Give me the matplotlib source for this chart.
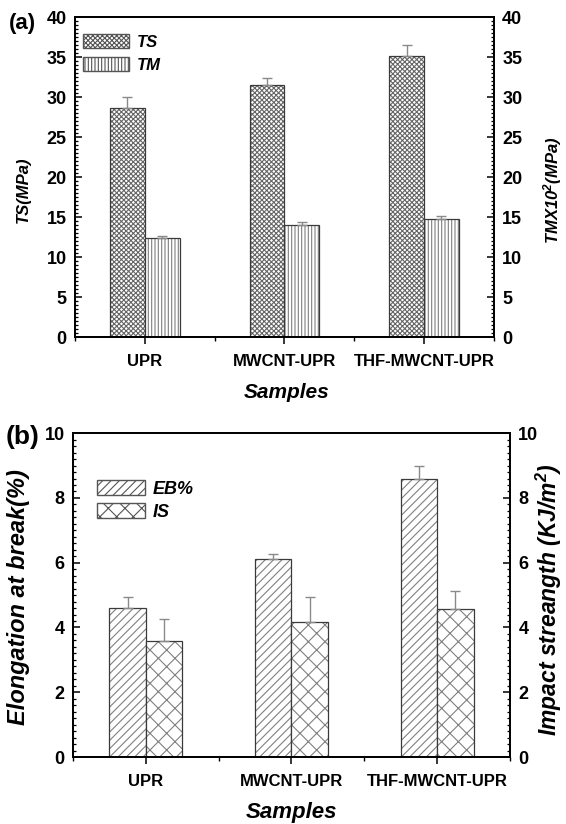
import numpy as np
import matplotlib
matplotlib.use("Agg")
from matplotlib import pyplot as plt
from matplotlib.patches import Patch
from matplotlib.ticker import MultipleLocator

# valores medidos (media e desvio) para as tres amostras
samples = ["UPR", "MWCNT-UPR", "THF-MWCNT-UPR"]
ts = [28.7, 31.5, 35.1]
tsErr = [1.3, 0.95, 1.4]
tm = [12.45, 14.0, 14.8]
tmErr = [0.15, 0.37, 0.35]
eb = [4.6, 6.1, 8.6]
ebErr = [0.35, 0.17, 0.4]
impact = [3.57, 4.18, 4.56]
impactErr = [0.68, 0.76, 0.56]

plt.rcParams["font.family"] = ["Liberation Sans", "DejaVu Sans"]
plt.rcParams["font.weight"] = "bold"
plt.rcParams["mathtext.fontset"] = "custom"
plt.rcParams["mathtext.rm"] = "Liberation Sans:bold:italic"
plt.rcParams["mathtext.it"] = "Liberation Sans:bold:italic"
plt.rcParams["hatch.linewidth"] = 0.8
plt.rcParams["axes.linewidth"] = 1.3

hatchColor = "#808080"
edgeColor = "#3a3a3a"
errColor = "#8a8a8a"
width = 0.25
x = np.arange(1, 4)


def hatched_bars(ax, pos, values, errs, hatch, color=hatchColor):
    # preenchimento hachurado em cinza e contorno mais escuro por cima
    ax.bar(pos, values, width, color="white", edgecolor=color, hatch=hatch, linewidth=0)
    ax.bar(pos, values, width, fill=False, edgecolor=edgeColor, linewidth=0.9)
    ax.errorbar(pos, values, yerr=[np.zeros(len(errs)), errs], fmt="none",
                ecolor=errColor, elinewidth=1.0, capsize=3.5, capthick=1.0)


def style_axes(ax, ymax, ystep, yminor, ytickSize, xtickSize):
    ax.set_xlim(0.5, 3.5)
    ax.set_ylim(0, ymax)
    ax.set_xticks(x)
    ax.set_xticklabels(samples, fontsize=xtickSize, fontweight="bold")
    ax.xaxis.set_minor_locator(MultipleLocator(0.5))
    ax.yaxis.set_major_locator(MultipleLocator(ystep))
    ax.yaxis.set_minor_locator(MultipleLocator(yminor))
    ax.tick_params(axis="y", which="major", direction="in", length=5, width=1.1,
                   labelsize=ytickSize, pad=6)
    ax.tick_params(axis="y", which="minor", direction="in", length=2.5, width=0.9)
    ax.tick_params(axis="x", which="major", direction="out", length=5, width=1.1, pad=7)
    ax.tick_params(axis="x", which="minor", direction="out", length=3, width=1.0)
    for lab in ax.get_yticklabels():
        lab.set_fontweight("bold")
    # eixo da direita com a mesma escala
    axr = ax.twinx()
    axr.set_ylim(0, ymax)
    axr.yaxis.set_major_locator(MultipleLocator(ystep))
    axr.yaxis.set_minor_locator(MultipleLocator(yminor))
    axr.tick_params(axis="y", which="major", direction="in", length=5, width=1.1,
                    labelsize=ytickSize, pad=6)
    axr.tick_params(axis="y", which="minor", direction="in", length=2.5, width=0.9)
    for lab in axr.get_yticklabels():
        lab.set_fontweight("bold")
    return axr


def side_label(xpix, ypix, text, size):
    # titulos verticais posicionados em pixels da figura (566 x 824)
    fig.text(xpix / 566, 1 - ypix / 824, text, rotation=90, ha="center", va="center",
             fontsize=size, fontstyle="italic", fontweight="bold")


fig = plt.figure(figsize=(5.66, 8.24), dpi=100)

# (a) resistencia e modulo de tracao
ax1 = fig.add_axes([0.1325, 0.591, 0.740, 0.388])
hatched_bars(ax1, x - width / 2, ts, tsErr, "xxxxxxx", "#666666")
hatched_bars(ax1, x + width / 2, tm, tmErr, "|||||")
ax1r = style_axes(ax1, 40, 5, 0.5, 13, 12)
ax1.set_xlabel("Samples", fontsize=15, fontstyle="italic", fontweight="bold")
ax1.xaxis.set_label_coords(0.505, -0.143)
side_label(23, 190, "TS(MPa)", 12)
side_label(553, 190, "TMX10$^{2}$(MPa)", 12)
leg1 = [Patch(facecolor="white", edgecolor="#555555", hatch="xxxxxxx", label="TS"),
        Patch(facecolor="white", edgecolor="#555555", hatch="|||||", label="TM")]
ax1.legend(handles=leg1, loc="upper left", bbox_to_anchor=(0.019, 0.948), frameon=False,
           borderpad=0, borderaxespad=0, handlelength=2.76, handleheight=0.96,
           handletextpad=0.45, labelspacing=0.4,
           prop={"size": 12, "style": "italic", "weight": "bold"})
fig.text(0.039, 0.9715, "(a)", fontsize=16, fontweight="bold", ha="center", va="center")

# (b) alongamento na ruptura e resistencia ao impacto
ax2 = fig.add_axes([0.129, 0.0813, 0.772, 0.393])
hatched_bars(ax2, x - width / 2, eb, ebErr, "////")
hatched_bars(ax2, x + width / 2, impact, impactErr, "xx")
ax2r = style_axes(ax2, 10, 2, 0.2, 13, 12)
ax2.set_xlabel("Samples", fontsize=16, fontstyle="italic", fontweight="bold")
ax2.xaxis.set_label_coords(0.5, -0.138)
side_label(19, 597, "Elongation at break(%)", 17)
side_label(549, 600, "Impact streangth (KJ/m$^{2}$)", 16.5)
leg2 = [Patch(facecolor="white", edgecolor="#555555", hatch="////", label="EB%"),
        Patch(facecolor="white", edgecolor="#555555", hatch="xx", label="IS")]
ax2.legend(handles=leg2, loc="upper left", bbox_to_anchor=(0.055, 0.855), frameon=False,
           borderpad=0, borderaxespad=0, handlelength=2.65, handleheight=0.9,
           handletextpad=0.45, labelspacing=0.3,
           prop={"size": 13, "style": "italic", "weight": "bold"})
fig.text(0.039, 0.4697, "(b)", fontsize=19, fontweight="bold", ha="center", va="center")

fig.savefig("out.png", dpi=100)
